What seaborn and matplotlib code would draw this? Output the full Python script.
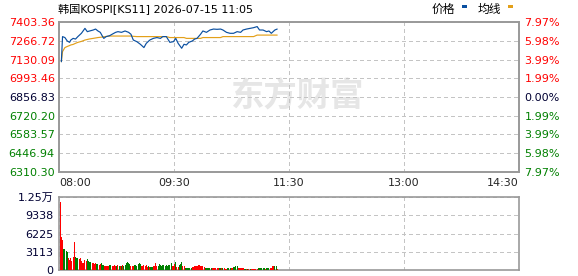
import numpy as np
import pandas as pd
import matplotlib
matplotlib.use("Agg")
import matplotlib.pyplot as plt
from matplotlib.patches import Rectangle
import seaborn as sns

# ---------------- data ----------------
title = "韩国KOSPI[KS11] 2026-07-15 11:05"
prev_close = 6856.83
price_ticks = [6310.30, 6446.94, 6583.57, 6720.20, 6856.83, 6993.46, 7130.09, 7266.72, 7403.36]
pct_labels = ["7.97%", "5.98%", "3.99%", "1.99%", "0.00%", "1.99%", "3.99%", "5.98%", "7.97%"]
time_labels = ["08:00", "09:30", "11:30", "13:00", "14:30"]
vol_ticks = [0, 3113, 6225, 9338, 12450]
vol_tick_labels = ["0", "3113", "6225", "9338", "1.25万"]

minutes = [2, 3, 5, 7, 9, 10, 12, 14, 16, 19, 22, 24, 26, 29, 31, 33, 35, 37, 38, 40,
           43, 45, 48, 50, 53, 56, 59, 61, 63, 66, 69, 72, 74, 77, 80, 83, 86, 88, 91, 94,
           97, 99, 101, 104, 106, 108, 110, 113, 115, 117, 120, 122, 125, 128, 131, 134, 137, 139, 142, 145,
           148, 151, 154, 156, 159, 162, 165, 168, 170, 173, 176, 178, 180, 183, 185]
price = [7114, 7297, 7290, 7265, 7255, 7272, 7284, 7279, 7297, 7321, 7357, 7333, 7338, 7345, 7352, 7338, 7328, 7297, 7284, 7297,
         7304, 7314, 7328, 7333, 7328, 7338, 7328, 7314, 7272, 7260, 7241, 7217, 7248, 7272, 7284, 7290, 7284, 7297, 7297, 7255,
         7260, 7284, 7248, 7212, 7241, 7236, 7255, 7265, 7279, 7284, 7314, 7338, 7328, 7345, 7352, 7350, 7352, 7345, 7328, 7321,
         7321, 7333, 7328, 7345, 7352, 7357, 7362, 7370, 7345, 7345, 7333, 7338, 7321, 7345, 7352]
avg_price = [7114, 7188, 7217, 7225, 7232, 7236, 7240, 7248, 7255, 7262, 7272, 7276, 7280, 7284, 7287, 7290, 7292, 7294, 7296, 7298,
             7301, 7301, 7301, 7301, 7301, 7301, 7301, 7301, 7299, 7297, 7297, 7297, 7297, 7297, 7297, 7297, 7297, 7297, 7297, 7290,
             7290, 7290, 7290, 7290, 7290, 7284, 7284, 7284, 7284, 7284, 7284, 7290, 7290, 7290, 7290, 7290, 7290, 7297, 7297, 7297,
             7297, 7297, 7297, 7297, 7297, 7297, 7297, 7308, 7308, 7308, 7308, 7308, 7308, 7308, 7308]

vol_minutes = list(range(1, 186))
volume = [11650, 5700, 5100, 3580, 3500, 3300, 3130, 2100, 1700, 2000,
          1500, 2270, 4830, 2270, 2100, 2100, 1800, 2100, 1540, 1140,
          1140, 1700, 1540, 1820, 1590, 1310, 1310, 1140, 1140, 970,
          1140, 970, 970, 800, 970, 1140, 910, 910, 700, 740,
          740, 740, 850, 850, 680, 680, 850, 700, 680, 850,
          680, 600, 680, 850, 680, 850, 1140, 1300, 1140, 1000,
          680, 700, 680, 850, 850, 700, 1000, 1140, 1100, 700,
          600, 800, 600, 900, 500, 600, 500, 500, 500, 600,
          680, 1140, 600, 680, 1000, 850, 700, 850, 850, 700,
          850, 680, 850, 850, 1140, 680, 680, 1000, 1310, 570,
          570, 850, 1000, 1310, 680, 680, 400, 400, 400, 400,
          400, 400, 570, 570, 680, 680, 680, 850, 850, 750,
          680, 680, 450, 400, 400, 400, 400, 400, 400, 400,
          400, 400, 400, 400, 400, 400, 400, 400, 400, 400,
          230, 230, 400, 400, 400, 400, 400, 570, 570, 680,
          680, 400, 400, 300, 300, 300, 230, 230, 230, 230,
          230, 230, 230, 230, 230, 230, 230, 230, 300, 300,
          300, 300, 300, 300, 230, 400, 400, 400, 400, 400,
          680, 680, 680, 680, 200]
direction_groups = ["rrrggggrrr", "rrrgggrrrr", "rrrggggrrr", "rggrrgggrr", "rrggrrrrgr",
                    "grgrgggggg", "rrrggggggr", "rrrrrgrggr", "rrrggggggg", "gggggrrrgr",
                    "rgggrrgggg", "ggrrrrrrrr", "rrrggggggr", "rrrrrggrgr", "rrgggrrggg",
                    "grrrrrggrg", "rgrrrrrrgg", "ggggrgggrr", "rrggr"]
direction = list("".join(direction_groups))

RED = "#ff0000"
GREEN = "#008000"
DARK = "#000033"
BLUE = "#0a4fa0"
ORANGE = "#e3a01a"
GRID = "#c4c4c4"
FRAME = "#999999"
PX = 0.72  # one pixel at 100 dpi, in points

# ---------------- figure ----------------
sns.set_theme(style="white")
plt.rcParams["font.family"] = ["DejaVu Sans", "Noto Sans CJK SC"]

W, H = 578, 276
fig = plt.figure(figsize=(W / 100, H / 100), dpi=100)

def fx(px):
    return px / W

def fy(py):
    return 1 - py / H

ax = fig.add_axes([fx(59), fy(172), fx(519) - fx(59), fy(22) - fy(172)])
axv = fig.add_axes([fx(59), fy(270), fx(519) - fx(59), fy(197) - fy(270)])

xticks = [0, 97.5, 195, 292.5, 390]

def draw_grid(a):
    a.grid(True, which="major", axis="both", color=GRID, linestyle=(0, (4, 3)),
           linewidth=PX, snap=True, antialiased=False)
    a.set_axisbelow(True)

# watermark
ax.text(0.517, 0.50, "东方财富", transform=ax.transAxes, ha="center", va="center",
        fontsize=24, fontweight="bold", color="#e6e6e6", family=["Noto Sans CJK SC"], zorder=0)

df = pd.DataFrame({"minute": minutes, "price": price, "avg": avg_price})
sns.lineplot(data=df, x="minute", y="avg", ax=ax, color=ORANGE, linewidth=0.85, zorder=3)
sns.lineplot(data=df, x="minute", y="price", ax=ax, color=BLUE, linewidth=0.85, zorder=4)

ax.set_xlim(0, 390)
ax.set_ylim(price_ticks[0], price_ticks[-1])
ax.set_yticks(price_ticks)
ax.set_yticklabels([f"{v:.2f}" for v in price_ticks])
for lab, v in zip(ax.get_yticklabels(), price_ticks):
    lab.set_color(RED if v > prev_close + 1 else (GREEN if v < prev_close - 1 else DARK))
ax.set_xticks(xticks)
ax.set_xticklabels(time_labels)
xl = ax.get_xticklabels()
xl[0].set_ha("left")
xl[-1].set_ha("right")
ax.tick_params(axis="both", length=0, labelsize=8, pad=3)
ax.tick_params(axis="x", pad=4)
ax.set_xlabel("")
ax.set_ylabel("")
draw_grid(ax)

ax2 = ax.twinx()
ax2.set_ylim(ax.get_ylim())
ax2.set_yticks(price_ticks)
ax2.set_yticklabels(pct_labels[::-1])
for lab, v in zip(ax2.get_yticklabels(), price_ticks):
    lab.set_color(RED if v > prev_close + 1 else (GREEN if v < prev_close - 1 else DARK))
ax2.tick_params(axis="y", length=0, labelsize=8, pad=4)
ax2.grid(False)

for a in (ax, ax2, axv):
    for s in a.spines.values():
        s.set_visible(True)
        s.set_color(FRAME)
        s.set_linewidth(1.2)

# volume
dfv = pd.DataFrame({"minute": vol_minutes, "volume": volume, "dir": direction})
sns.barplot(data=dfv, x="minute", y="volume", hue="dir", palette={"r": RED, "g": GREEN},
            native_scale=True, dodge=False, width=0.85, saturation=1, linewidth=0,
            errorbar=None, legend=False, ax=axv, zorder=3)
axv.set_xlim(0, 390)
axv.set_ylim(0, vol_ticks[-1])
axv.set_yticks(vol_ticks)
axv.set_yticklabels(vol_tick_labels, color=DARK)
axv.set_xticks(xticks)
axv.set_xticklabels([])
axv.tick_params(axis="both", length=0, labelsize=8, pad=4)
axv.set_xlabel("")
axv.set_ylabel("")
draw_grid(axv)

# title and legend
fig.text(fx(58), fy(9), title, ha="left", va="center", fontsize=8, color="black")
fig.text(fx(432), fy(9), "价格", ha="left", va="center", fontsize=8.5, color="black",
         family=["Noto Sans CJK SC"])
fig.text(fx(478), fy(9), "均线", ha="left", va="center", fontsize=8.5, color="black",
         family=["Noto Sans CJK SC"])
fig.patches.append(Rectangle((fx(462), fy(8)), fx(5), 3 / H, transform=fig.transFigure,
                             facecolor=BLUE, edgecolor="none"))
fig.patches.append(Rectangle((fx(508), fy(8)), fx(5), 3 / H, transform=fig.transFigure,
                             facecolor=ORANGE, edgecolor="none"))

fig.savefig("out.png", dpi=100)
